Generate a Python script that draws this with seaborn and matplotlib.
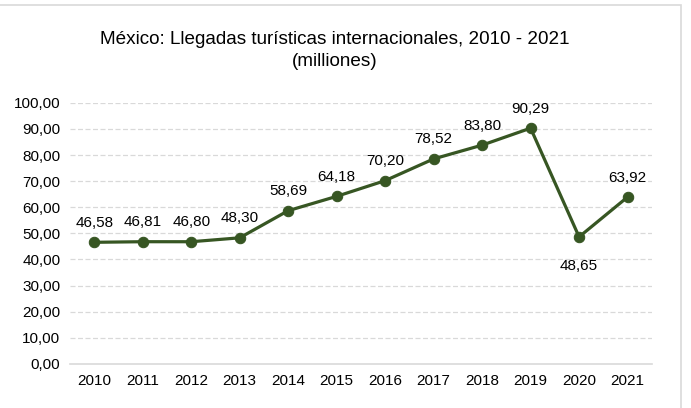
import matplotlib
matplotlib.use("Agg")
import matplotlib.pyplot as plt
import seaborn as sns
import pandas as pd
from matplotlib.patches import Rectangle

# Données
years = ["2010", "2011", "2012", "2013", "2014", "2015", "2016", "2017", "2018", "2019", "2020", "2021"]
arrivals = [46.58, 46.81, 46.80, 48.30, 58.69, 64.18, 70.20, 78.52, 83.80, 90.29, 48.65, 63.92]
y_ticks = [0, 10, 20, 30, 40, 50, 60, 70, 80, 90, 100]

df = pd.DataFrame({"year": years, "value": arrivals})
df["pos"] = range(len(df))

sns.set_style("white")
plt.rcParams["font.family"] = ["Liberation Sans", "DejaVu Sans"]

green = "#375623"

fig = plt.figure(figsize=(6.91, 4.08), dpi=100)
ax = fig.add_axes([0.1013, 0.108, 0.842, 0.64])

sns.lineplot(data=df, x="pos", y="value", color=green, linewidth=2.3,
             marker="o", markersize=7.5, markeredgecolor=green, ax=ax)

# étiquettes
for i, v in enumerate(arrivals):
    txt = f"{v:.2f}".replace(".", ",")
    if years[i] == "2020":
        ax.annotate(txt, (i, v), xytext=(0, -16), textcoords="offset points",
                    ha="center", va="top", fontsize=11, color="#000000")
    else:
        ax.annotate(txt, (i, v), xytext=(0, 9), textcoords="offset points",
                    ha="center", va="bottom", fontsize=11, color="#000000")

ax.set_xlim(-0.5, 11.5)
ax.set_ylim(0, 100)
ax.set_xticks(df["pos"])
ax.set_xticklabels(years, fontsize=11, color="#000000")
ax.set_yticks(y_ticks)
ax.set_yticklabels([f"{t:.2f}".replace(".", ",") for t in y_ticks], fontsize=11, color="#000000")
ax.set_xlabel("")
ax.set_ylabel("")
ax.tick_params(axis="both", length=0, pad=7)

for t in y_ticks[1:]:
    ax.axhline(t, color="#d9d9d9", linewidth=0.9, linestyle=(0, (4, 2)), zorder=0)

for s in ["top", "right", "left"]:
    ax.spines[s].set_visible(False)
ax.spines["bottom"].set_color("#d9d9d9")
ax.spines["bottom"].set_linewidth(1.2)

fig.text(0.484, 0.902, "México: Llegadas turísticas internacionales, 2010 - 2021",
         ha="center", va="center", fontsize=13.6, color="#000000")
fig.text(0.484, 0.850, "(milliones)", ha="center", va="center", fontsize=13.6, color="#000000")

# cadre
fig.patches.append(Rectangle((-0.01, -0.01), 681 / 691 + 0.01, (408 - 5) / 408 + 0.01,
                             transform=fig.transFigure, fill=False,
                             edgecolor="#d9d9d9", linewidth=1.2))

fig.savefig("out.png", dpi=100)
plt.close()
